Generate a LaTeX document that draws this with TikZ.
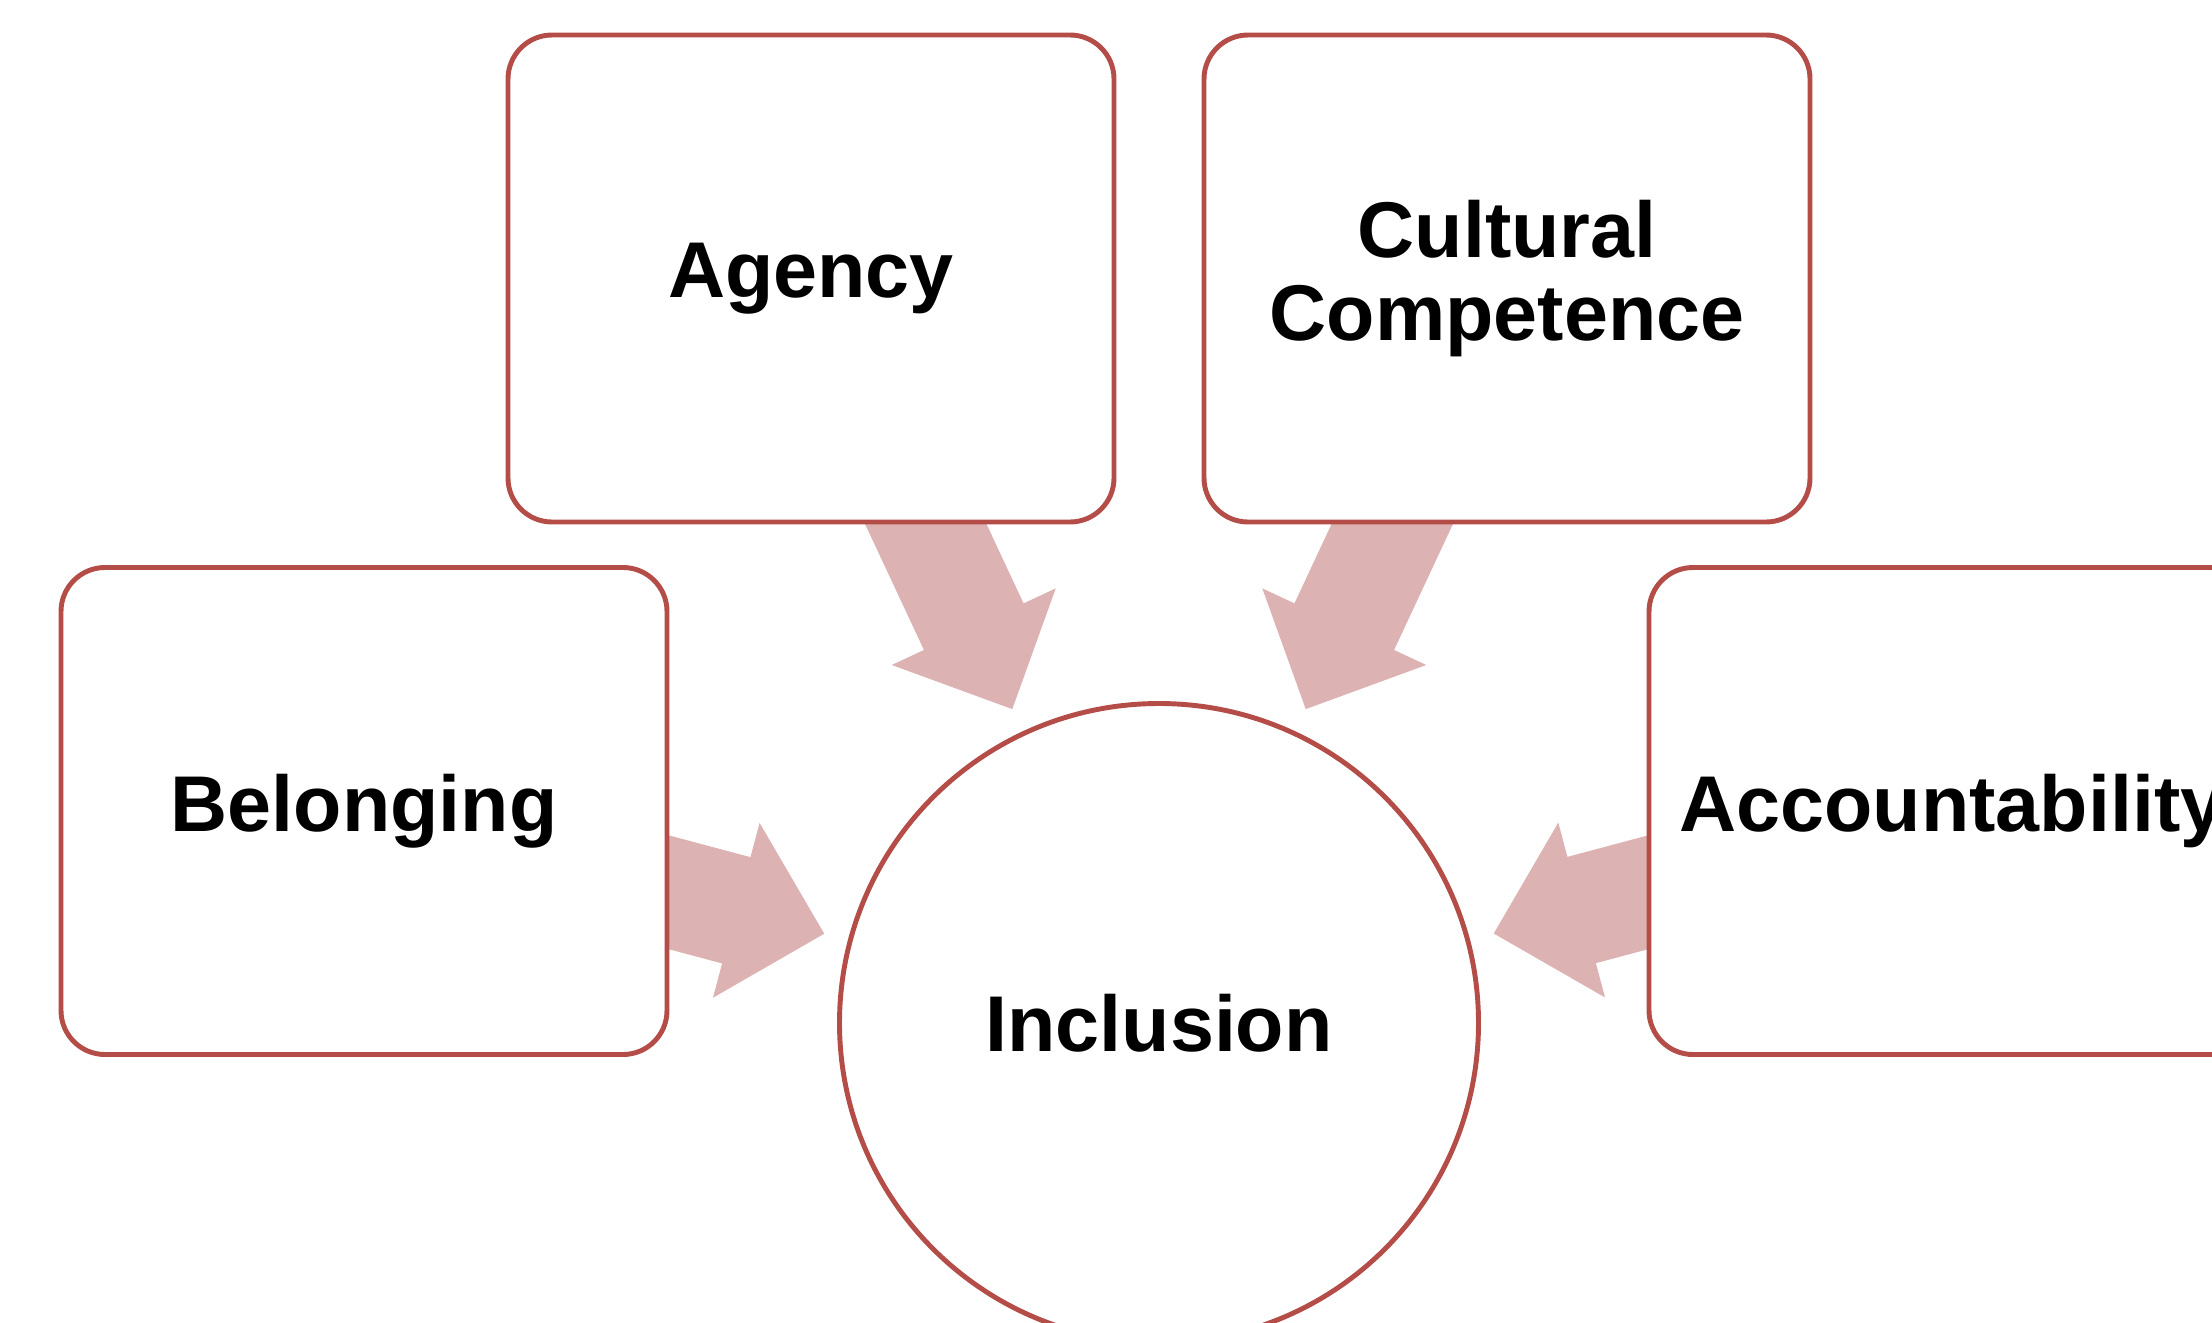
\documentclass[tikz,border=0pt]{standalone}
\usepackage{fontspec}
\setmainfont{Liberation Sans}
\usetikzlibrary{calc,backgrounds}
\definecolor{boxline}{RGB}{180,76,72}
\definecolor{arrowpink}{RGB}{220,178,178}
% block arrow from a box towards the hub
\newcommand\bigarrow[1]{%
  \coordinate (tip) at ($(inclusion.center)!3.465cm!(#1.center)$);
  \coordinate (base) at ($(tip)!0.91cm!(#1.center)$);
  \draw [arrowshaft] (#1.center) -- ($(tip)!0.6cm!(#1.center)$);
  \fill [arrowpink] (tip) -- ($(base)!0.905cm!90:(tip)$) -- ($(base)!0.905cm!-90:(tip)$) -- cycle;}
\begin{document}
\begin{tikzpicture}[
		box/.style={draw=boxline, line width=1.4pt, fill=white, rounded corners=0.44cm,
			minimum width=6.06cm, minimum height=4.87cm, align=center, inner sep=0pt,
			font=\fontsize{22.5}{23.5}\selectfont\bfseries},
		hub/.style={draw=boxline, line width=1.4pt, fill=white, circle, minimum size=6.39cm,
			inner sep=0pt, font=\fontsize{22.5}{23.5}\selectfont\bfseries},
		arrowshaft/.style={draw=arrowpink, line width=1.1cm}]
		\useasboundingbox (0,0) rectangle (22.12,-13.22);
		% Boxes
		\node [box] (agency) at (8.11,-2.785) {Agency};
		\node [box] (cultural) at (15.07,-2.785) {Cultural\\Competence};
		\node [box] (belonging) at (3.64,-8.11) {Belonging};
		\node [box] (accountability) at (19.52,-8.11) {Accountability};
		% Hub
		\node [hub] (inclusion) at (11.59,-10.23) {Inclusion};
		% Arrows
		\begin{scope}[on background layer]
			\bigarrow{agency}
			\bigarrow{cultural}
			\bigarrow{belonging}
			\bigarrow{accountability}
		\end{scope}
	\end{tikzpicture}
\end{document}
